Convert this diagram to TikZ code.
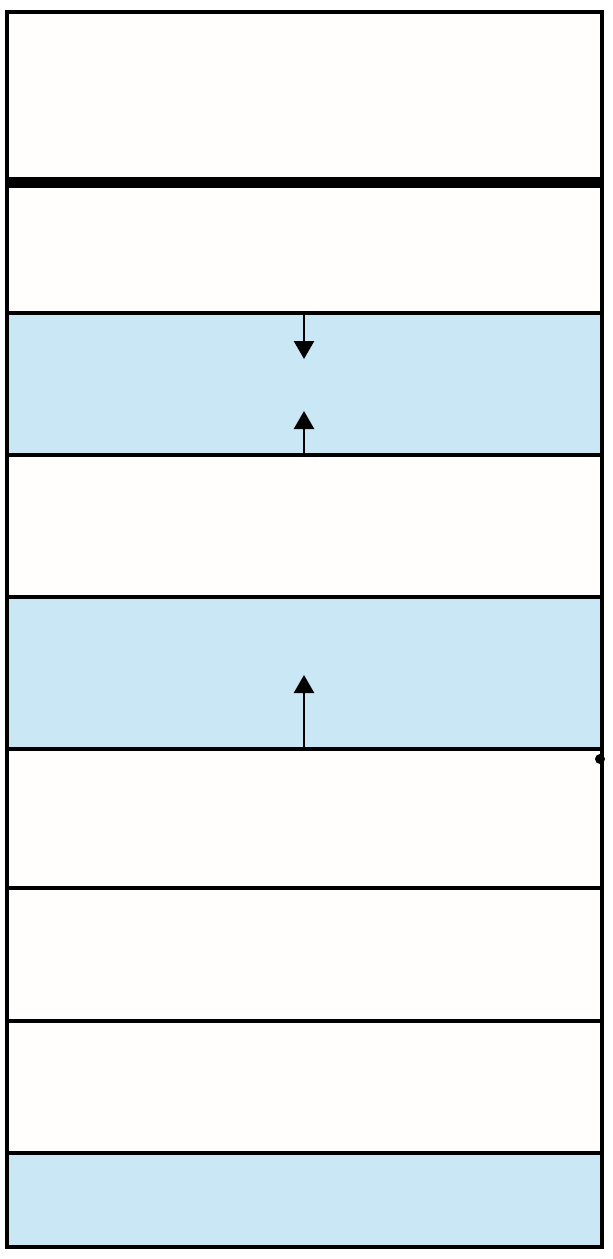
\documentclass[tikz,border=0pt]{standalone}
\usetikzlibrary{arrows.meta}
\definecolor{layerblue}{RGB}{202,231,246}
\definecolor{paper}{RGB}{255,254,252}
\begin{document}
\begin{tikzpicture}[x=1pt,y=-1pt,
  sep/.style={line width=3.2pt},
  band/.style={fill=layerblue},
  force/.style={line width=2.6pt,-{Triangle[length=18pt,width=20pt]}}]
\useasboundingbox (0,0) rectangle (613,1259);
\fill[white] (0,0) rectangle (613,1259);
\fill[paper] (7,12) rectangle (602,1247);
% blue bands
\fill[band] (7,313) rectangle (602,455);
\fill[band] (7,597) rectangle (602,749);
\fill[band] (7,1153) rectangle (602,1247);
% separators
\draw[sep] (7,313) -- (602,313);
\draw[sep] (7,455) -- (602,455);
\draw[sep] (7,597) -- (602,597);
\draw[sep] (7,749) -- (602,749);
\draw[sep] (7,888) -- (602,888);
\draw[sep] (7,1021) -- (602,1021);
\draw[sep] (7,1153) -- (602,1153);
% thick interface line
\draw[line width=11pt] (6,182) -- (604,182);
% outer frame
\draw[line width=3.8pt] (7,12) rectangle (602,1247);
% arrows
\coordinate (a1s) at (304,313);
\coordinate (a1e) at (304,359);
\coordinate (a2s) at (304,455);
\coordinate (a2e) at (304,411);
\coordinate (a3s) at (304,749);
\coordinate (a3e) at (304,675);
\draw[force] (a1s) -- (a1e);
\draw[force] (a2s) -- (a2e);
\draw[force] (a3s) -- (a3e);
% small blot at the right edge
\fill (600,759) circle (5pt);
\end{tikzpicture}
\end{document}
